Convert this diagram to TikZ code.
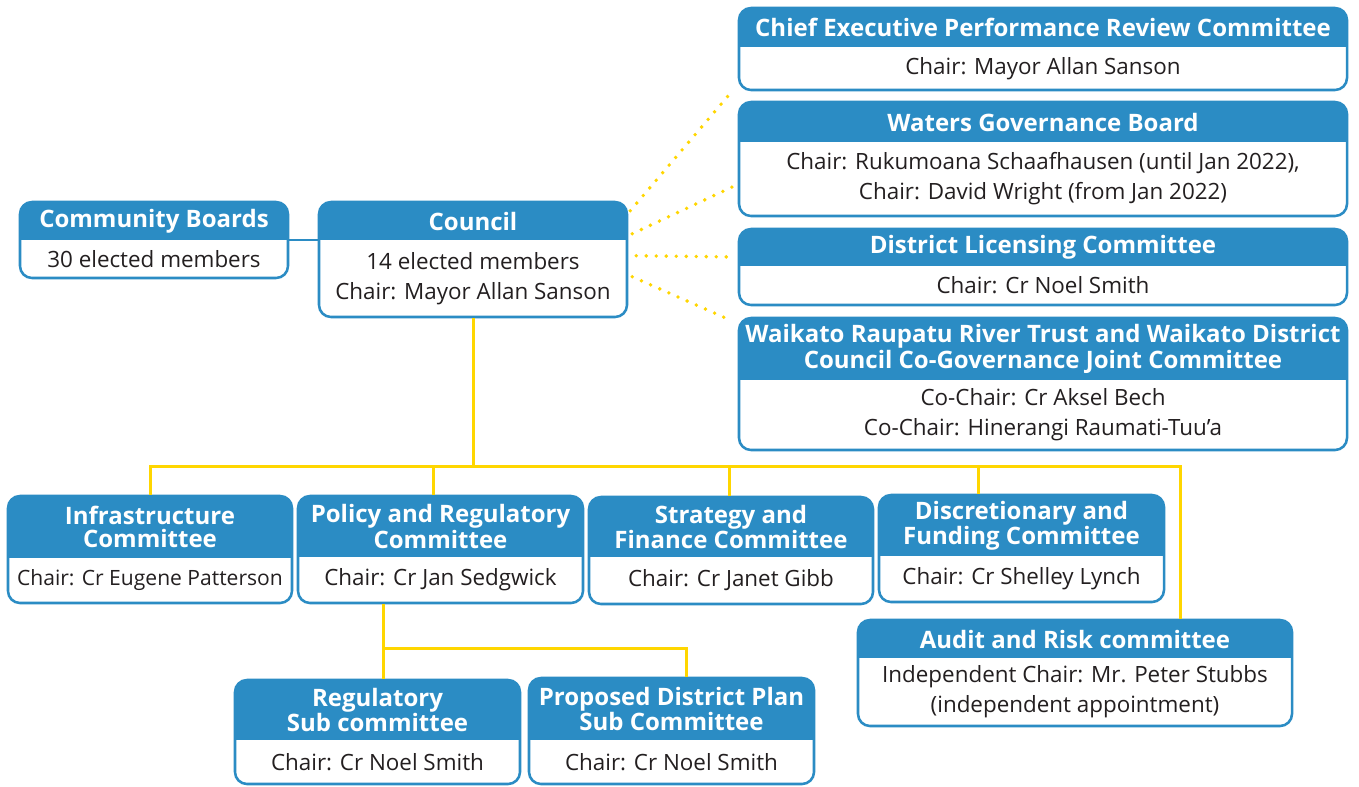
\documentclass[tikz,border=0pt]{standalone}
\usepackage{fontspec}
\setmainfont{Open Sans}
\usetikzlibrary{fit,calc}
\definecolor{hdrblue}{RGB}{43,140,196}
\definecolor{treeyel}{RGB}{255,214,0}
\definecolor{txtgray}{RGB}{35,31,32}
\tikzset{
  frame/.style={draw=hdrblue,line width=1.9pt,rounded corners=9pt,inner sep=0pt},
  titletext/.style={text=white,font=\bfseries\fontsize{18}{17.6}\selectfont,align=center,inner sep=0pt},
  bodytext/.style={text=txtgray,font=\fontsize{16.8}{22.5}\selectfont,align=center,inner sep=0pt},
  tree/.style={draw=treeyel,line width=2.25pt},
  dots/.style={draw=treeyel,line width=2.9pt,line cap=round,dash pattern=on 0pt off 7.5pt},
  blueline/.style={draw=hdrblue,line width=2.2pt}
}
% #1 name, #2 x1, #3 y1, #4 x2, #5 y2, #6 header bottom, #7 title, #8 body
\newcommand\orgbox[8]{%
  \begin{scope}
    \clip[rounded corners=9pt] (#2,#3) rectangle (#4,#5);
    \fill[white] (#2,#3) rectangle (#4,#5);
    \fill[hdrblue] (#2,#3) rectangle (#4,#6);
  \end{scope}
  \node[frame,fit={(#2,#3) (#4,#5)}] (#1) {};
  \node[titletext] (#1-t) at ({(#2+#4)/2},{(#3+#6)/2}) {#7};
  \node[bodytext] (#1-b) at ({(#2+#4)/2},{(#6+#5)/2}) {#8};
}
\begin{document}
\begin{tikzpicture}[x=0.75pt,y=-0.75pt]
\useasboundingbox (0,0) rectangle (1359,786);
\fill[white] (0,0) rectangle (1359,786);

\coordinate (bus) at (473,466);
\coordinate (auditdrop) at (1180,466);
\coordinate (dpol) at (433,466);
\coordinate (dstr) at (729,466);
\coordinate (ddis) at (978,466);
\coordinate (sub) at (383,648);
\coordinate (sub2) at (686,648);

\orgbox{cb}{20}{202}{288}{278}{240}{Community Boards}{30 elected members}
\orgbox{council}{319}{202}{627}{317}{240}{Council}{14 elected members\\Chair: Mayor Allan Sanson}
\orgbox{chief}{739}{8}{1347}{90}{47}{Chief Executive Performance Review Committee}{Chair: Mayor Allan Sanson}
\orgbox{waters}{739}{102}{1347}{216}{142}{Waters Governance Board}{Chair: Rukumoana Schaafhausen (until Jan 2022),\\Chair: David Wright (from Jan 2022)}
\orgbox{dlc}{739}{229}{1347}{305}{266}{District Licensing Committee}{Chair: Cr Noel Smith}
\orgbox{wrrt}{739}{318}{1347}{450}{380}{Waikato Raupatu River Trust and Waikato District\\Council Co-Governance Joint Committee}{Co-Chair: Cr Aksel Bech\\Co-Chair: Hinerangi Raumati-Tuu’a}

\orgbox{infra}{8}{496}{292}{603}{558}{Infrastructure\\Committee}{{\fontsize{15.8}{22.5}\selectfont Chair: Cr Eugene Patterson}}
\orgbox{policy}{298}{496}{583}{603}{557}{Policy and Regulatory\\Committee}{Chair: Cr Jan Sedgwick}
\orgbox{strat}{589}{497}{873}{604}{557}{Strategy and\\Finance Committee}{Chair: Cr Janet Gibb}
\orgbox{disc}{879}{495}{1164}{602}{556}{Discretionary and\\Funding Committee}{Chair: Cr Shelley Lynch}
\orgbox{audit}{858}{620}{1292}{726}{658}{Audit and Risk committee}{Independent Chair: Mr. Peter Stubbs\\(independent appointment)}
\orgbox{reg}{235}{680}{520}{784}{740}{Regulatory\\Sub committee}{Chair: Cr Noel Smith}
\orgbox{prop}{529}{678}{814}{784}{740}{Proposed District Plan\\Sub Committee}{Chair: Cr Noel Smith}

% blue link
\draw[blueline] (cb.east) -- (cb.east -| council.west);

% dotted links
\draw[dots] ($(council.north east)+(2,10)$) -- ($(chief.south west)+(-4,-2)$);
\draw[dots] ($(council.north east)+(4,33)$) -- ($(waters.south west)+(-4,-31)$);
\draw[dots] ($(council.north east)+(8,55)$) -- ($(dlc.west)+(-4,-10)$);
\draw[dots] ($(council.north east)+(4,76)$) -- ($(wrrt.north west)+(-6,4)$);

% yellow tree
\draw[tree] (council.south) -- (bus);
\draw[tree] (infra.north) |- (auditdrop) -- (auditdrop |- audit.north);
\draw[tree] (dpol) -- (dpol |- policy.north);
\draw[tree] (dstr) -- (dstr |- strat.north);
\draw[tree] (ddis) -- (ddis |- disc.north);
\draw[tree] (sub |- policy.south) -- (sub) -- (sub2) -- (sub2 |- prop.north);
\draw[tree] (sub) -- (sub |- reg.north);
\end{tikzpicture}
\end{document}
